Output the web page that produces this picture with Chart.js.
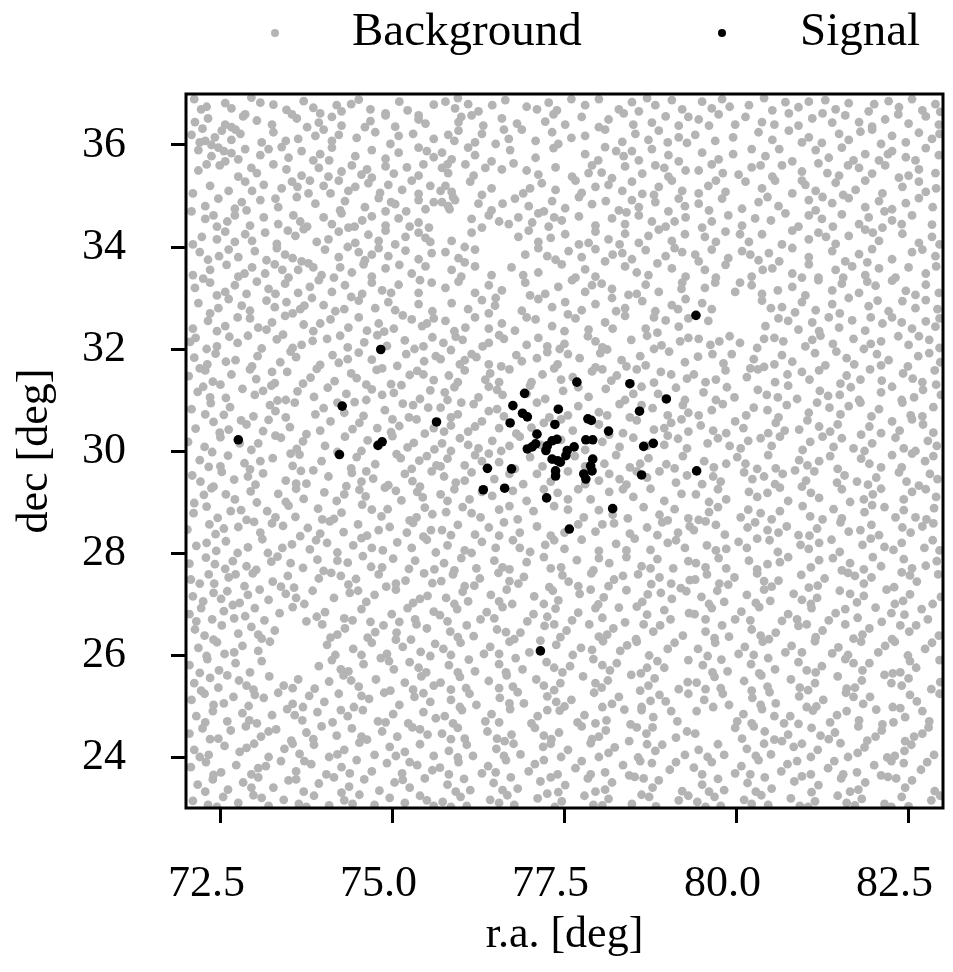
<!DOCTYPE html>
<html>
<head>
<meta charset="utf-8">
<script src="https://cdn.jsdelivr.net/npm/chart.js@4.4.0/dist/chart.umd.min.js"></script>
<style>
  html, body { margin: 0; padding: 0; background: #fff; }
  #wrap { width: 953px; height: 972px; }
</style>
</head>
<body>
<div id="wrap"><canvas id="myChart" width="953" height="972"></canvas></div>
<script>
// tick labels
var xTicks = [72.5, 75.0, 77.5, 80.0, 82.5];
var yTicks = [24, 26, 28, 30, 32, 34, 36];

// signal events
var sigRA = [77.68, 78.45, 76.92, 78.98, 76.75, 76.89, 76.96, 77.41, 78.59, 76.71, 77.36, 77.84, 77.89, 78.14, 77.10,
  77.81, 77.91, 76.96, 77.03, 77.08, 77.25, 77.32, 77.39, 77.23, 77.54, 77.64, 77.52, 77.32, 77.40, 77.44,
  78.65, 78.79, 77.91, 77.88, 77.90, 77.37, 77.37, 77.81, 77.78, 76.38, 76.73, 78.62, 79.42, 76.32, 76.63,
  77.24, 78.20, 77.57, 74.83, 74.27, 72.76, 74.23, 74.79, 74.85, 75.64, 77.15, 79.41];
var sigDec = [31.35, 31.32, 31.13, 31.02, 30.89, 30.74, 30.67, 30.82, 30.78, 30.55, 30.52, 30.63, 30.60, 30.39, 30.33,
  30.22, 30.22, 30.04, 30.08, 30.14, 30.10, 30.20, 30.23, 30.01, 30.01, 30.08, 29.91, 29.84, 29.81, 29.78,
  30.09, 30.15, 29.84, 29.71, 29.61, 29.51, 29.61, 29.45, 29.55, 29.66, 29.65, 29.53, 29.61, 29.24, 29.27,
  29.08, 28.87, 28.47, 31.99, 30.88, 30.22, 29.93, 30.11, 30.18, 30.57, 26.08, 32.66];

// background events, (r.a., dec) pairs, read region by region
var bgNW = [72.57,36.82, 72.66,36.72, 72.86,36.60, 73.08,36.83, 73.27,36.79, 73.46,36.69, 73.71,36.86, 73.85,36.73, 74.19,36.78, 74.26,36.66, 74.51,36.89, 74.90,36.62, 75.38,36.58, 75.60,36.79, 72.12,36.90, 72.30,36.75, 74.68,36.70, 75.10,36.85, 73.95,36.62,
  72.13,36.45, 72.32,36.52, 72.57,36.40, 72.83,36.56, 73.03,36.48, 73.25,36.40, 73.54,36.60, 73.93,36.44, 74.12,36.55, 74.26,36.38, 74.68,36.47, 74.90,36.58, 75.04,36.36, 75.38,36.50, 75.48,36.42, 72.66,36.35, 73.76,36.35,
  72.08,36.20, 72.20,36.05, 72.42,36.15, 72.52,36.28, 72.66,36.10, 72.79,36.22, 73.10,36.05, 73.27,36.25, 73.63,36.12, 73.88,36.18, 74.00,36.30, 74.12,36.08, 74.22,36.20, 74.48,36.14, 74.75,36.25, 74.97,36.02, 75.09,36.18, 75.60,36.12, 72.37,36.00,
  72.18,35.90, 72.37,35.78, 72.47,35.95, 72.66,35.84, 72.76,35.72, 72.86,35.92, 73.08,35.80, 73.39,35.96, 73.49,35.75, 73.68,35.88, 73.85,35.70, 73.95,35.82, 74.12,35.95, 74.46,35.78, 74.70,35.90, 74.90,35.73, 75.09,35.85, 75.38,35.95, 75.60,35.76, 72.57,35.68,
  72.18,35.50, 72.49,35.60, 73.03,35.45, 73.27,35.62, 73.68,35.40, 73.93,35.55, 74.07,35.38, 74.26,35.48, 74.41,35.60, 74.63,35.52, 74.70,35.36, 74.90,35.58, 75.02,35.44, 75.21,35.56, 75.38,35.40, 75.45,35.62, 72.76,35.38, 73.46,35.52,
  72.35,35.20, 72.86,35.28, 72.96,35.10, 73.13,35.22, 73.39,35.15, 73.54,35.28, 73.78,35.05, 74.00,35.20, 74.22,35.30, 74.36,35.10, 74.46,35.18, 74.65,35.25, 74.82,35.06, 74.94,35.22, 75.14,35.12, 75.28,35.30, 75.38,35.04, 72.10,35.05, 73.62,35.18,
  72.28,34.80, 72.47,34.95, 72.71,34.75, 72.81,34.88, 72.88,34.72, 73.08,34.92, 73.34,34.78, 73.61,34.98, 73.88,34.85, 74.24,34.72, 74.31,34.90, 74.60,34.78, 74.80,34.96, 74.90,34.70, 75.04,34.84, 75.38,34.92, 75.48,34.74, 75.60,34.88, 72.08,34.70,
  72.28,34.55, 72.71,34.62, 72.93,34.42, 73.13,34.58, 73.34,34.45, 73.56,34.62, 73.66,34.50, 73.76,34.40, 74.00,34.58, 74.12,34.45, 74.26,34.66, 74.36,34.38, 74.56,34.52, 74.70,34.60, 74.90,34.42, 75.09,34.56, 75.38,34.48, 75.53,34.38, 72.45,34.40,
  72.23,34.20, 72.57,34.30, 72.71,34.10, 72.86,34.25, 72.96,34.12, 73.15,34.28, 73.32,34.06, 73.59,34.22, 73.71,34.35, 74.07,34.15, 74.22,34.30, 74.46,34.08, 74.65,34.24, 74.80,34.12, 74.90,34.32, 75.04,34.05, 75.19,34.20, 75.38,34.28, 75.55,34.10,
  72.20,33.90, 72.32,33.75, 72.62,33.95, 72.76,33.80, 73.00,33.92, 73.17,33.74, 73.32,33.98, 73.44,33.85, 73.68,33.72, 74.02,33.95, 74.22,33.80, 74.51,33.90, 74.60,33.74, 74.80,33.98, 74.94,33.82, 75.19,33.93, 75.38,33.76, 75.57,33.88,
  72.35,33.55, 72.59,33.65, 72.76,33.42, 72.96,33.60, 73.15,33.48, 73.29,33.66, 73.49,33.40, 73.63,33.55, 73.78,33.68, 73.97,33.45, 74.24,33.60, 74.41,33.50, 74.58,33.66, 74.70,33.42, 74.90,33.58, 75.28,33.48, 75.48,33.62, 72.10,33.45,
  72.13,33.20, 72.35,33.30, 72.57,33.12, 72.71,33.25, 72.88,33.08, 73.03,33.32, 73.20,33.18, 73.44,33.28, 73.63,33.10, 73.80,33.22, 73.93,33.35, 74.12,33.12, 74.31,33.25, 74.56,33.08, 74.70,33.30, 74.85,33.15, 75.09,33.26, 75.38,33.10, 75.57,33.30,
  72.18,32.90, 72.47,32.80, 72.62,32.98, 72.81,32.85, 72.93,32.75, 73.17,32.95, 73.29,32.82, 73.46,32.92, 73.66,32.78, 73.83,33.00, 74.00,32.86, 74.17,32.74, 74.51,32.95, 74.75,32.80, 74.94,32.92, 75.04,32.76, 75.38,32.88, 75.58,32.74,
  72.32,32.55, 72.57,32.45, 72.93,32.60, 73.17,32.38, 73.25,32.52, 73.44,32.65, 73.71,32.48, 73.85,32.35, 74.10,32.58, 74.36,32.42, 74.51,32.62, 74.63,32.36, 74.80,32.50, 75.02,32.40, 75.28,32.58, 75.43,32.45, 75.60,32.60, 72.10,32.40,
  72.22,36.70, 72.95,36.93, 73.61,36.52, 74.40,36.80, 75.22,36.68, 72.72,36.30, 72.24,36.32, 73.45,36.08, 74.60,36.35, 75.30,36.22,
  72.28,36.08, 72.55,35.88, 73.20,35.92, 74.08,35.70, 75.50,35.88, 72.30,35.62, 72.95,35.55, 73.80,35.30, 74.55,35.42, 75.55,35.20,
  72.62,35.10, 73.30,34.95, 74.10,35.05, 74.98,34.88, 75.20,34.70, 72.40,34.62, 72.60,34.50, 73.48,34.32, 74.45,34.40, 75.25,34.40,
  72.10,34.05, 72.45,34.15, 73.90,34.10, 74.35,34.00, 75.48,34.18, 72.48,33.82, 73.55,33.78, 73.85,33.60, 74.70,33.85, 75.10,33.65,
  72.25,33.38, 72.85,33.48, 73.40,33.55, 74.15,33.40, 75.40,33.35, 72.45,33.05, 73.30,33.08, 73.72,32.85, 74.40,33.02, 74.98,33.10,
  72.35,32.70, 72.75,32.62, 73.55,32.70, 74.30,32.78, 75.15,32.66, 72.45,32.35, 73.05,32.42, 73.95,32.50, 74.88,32.34, 75.50,32.50];

var bgN = [75.77,36.85, 75.91,36.72, 76.10,36.80, 76.25,36.66, 76.64,36.88, 76.95,36.75, 77.27,36.83, 77.39,36.68, 77.80,36.78, 78.00,36.90, 78.29,36.70, 78.48,36.84, 78.58,36.66, 78.82,36.78, 79.06,36.88, 79.21,36.70,
  75.96,36.45, 76.15,36.58, 76.32,36.38, 76.59,36.52, 76.81,36.42, 77.34,36.60, 77.51,36.40, 77.75,36.55, 78.00,36.35, 78.14,36.50, 78.36,36.62, 78.77,36.44, 78.97,36.56, 79.16,36.38,
  75.81,36.20, 75.96,36.28, 76.20,36.05, 76.30,36.22, 76.69,36.12, 76.88,36.30, 77.08,36.08, 77.32,36.25, 77.41,36.02, 77.80,36.18, 78.09,36.30, 78.34,36.06, 78.53,36.22, 78.72,36.10, 78.87,36.28, 79.16,36.15, 79.28,36.04,
  75.72,35.85, 75.86,35.72, 76.10,35.95, 76.20,35.80, 76.44,35.68, 76.71,35.90, 77.08,35.75, 77.34,35.94, 77.80,35.82, 77.99,35.70, 78.09,35.96, 78.36,35.78, 78.48,35.88, 78.58,35.70, 78.77,35.92, 79.01,35.80, 79.16,35.68,
  75.72,35.55, 75.81,35.45, 76.06,35.62, 76.18,35.40, 76.59,35.52, 76.76,35.64, 77.12,35.42, 77.37,35.56, 77.61,35.38, 77.90,35.60, 78.04,35.46, 78.19,35.35, 78.38,35.58, 78.63,35.44, 78.82,35.60, 79.01,35.38, 79.26,35.50,
  75.77,35.20, 75.86,35.08, 76.13,35.28, 76.44,35.15, 76.90,35.05, 77.17,35.25, 77.37,35.12, 77.66,35.30, 77.75,35.06, 78.14,35.22, 78.34,35.10, 78.48,35.28, 78.63,35.04, 78.87,35.18, 79.06,35.30, 79.21,35.10,
  75.72,34.88, 75.81,34.80, 75.91,34.92, 75.83,34.74, 76.25,34.85, 76.44,34.72, 76.78,34.95, 76.98,34.80, 77.32,34.90, 77.51,34.76, 77.71,34.98, 77.90,34.84, 78.29,34.72, 78.48,34.92, 78.58,34.78, 78.82,34.88, 79.01,34.70, 79.16,34.95,
  76.15,34.55, 76.40,34.62, 76.69,34.45, 76.83,34.58, 77.03,34.48, 77.12,34.66, 77.27,34.40, 77.46,34.52, 77.71,34.60, 77.95,34.42, 78.19,34.56, 78.38,34.45, 78.58,34.62, 78.77,34.50, 78.97,34.40, 79.26,34.58,
  75.86,34.12, 76.15,34.28, 76.83,34.20, 76.98,34.32, 77.12,34.10, 77.51,34.25, 77.71,34.05, 77.95,34.30, 78.14,34.15, 78.38,34.26, 78.58,34.08, 78.72,34.22, 78.87,34.34, 79.06,34.12,
  75.77,33.90, 75.96,33.78, 76.20,33.95, 76.93,33.85, 77.12,33.98, 77.37,33.75, 77.56,33.92, 77.75,33.80, 77.95,33.96, 78.09,33.72, 78.34,33.88, 78.48,33.76, 78.68,33.94, 78.97,33.82, 79.21,33.90,
  75.86,33.55, 76.20,33.62, 76.44,33.45, 76.73,33.60, 77.12,33.50, 77.46,33.66, 77.66,33.40, 77.80,33.56, 78.38,33.62, 78.72,33.45, 79.06,33.58, 79.26,33.42,
  75.77,33.20, 75.96,33.32, 76.20,33.10, 76.40,33.25, 76.59,33.15, 76.93,33.30, 77.22,33.08, 77.41,33.22, 77.61,33.35, 77.80,33.12, 78.04,33.28, 78.19,33.18, 78.43,33.06, 78.68,33.26, 78.87,33.12, 79.21,33.30,
  75.86,32.90, 76.10,32.78, 76.30,32.96, 76.49,32.85, 76.88,32.75, 77.12,32.98, 77.32,32.82, 77.51,32.92, 77.75,32.76, 77.95,32.88, 78.19,33.00, 78.38,32.80, 78.63,32.94, 78.82,32.74, 79.06,32.86, 79.26,32.98,
  75.77,32.55, 76.06,32.42, 76.20,32.62, 76.59,32.50, 76.78,32.36, 77.08,32.58, 77.32,32.45, 77.66,32.60, 77.85,32.38, 78.09,32.52, 78.38,32.65, 78.68,32.40, 78.97,32.56, 79.16,32.44, 79.30,32.60,
  75.95,36.92, 76.45,36.78, 77.10,36.70, 77.60,36.90, 78.70,36.92, 76.00,36.55, 76.62,36.30, 77.22,36.46, 78.50,36.40, 79.30,36.55,
  75.90,36.08, 76.50,36.02, 77.60,36.14, 78.25,35.88, 79.00,36.05, 75.80,35.62, 76.35,35.55, 76.95,35.50, 77.85,35.45, 78.95,35.55,
  75.70,35.10, 76.30,35.02, 77.00,35.15, 77.95,35.18, 78.80,35.02, 75.88,34.98, 76.60,34.85, 77.20,34.70, 78.10,34.90, 79.25,34.80,
  76.30,34.38, 76.55,34.50, 77.35,34.58, 78.40,34.68, 79.10,34.50, 77.30,34.18, 77.85,34.08, 78.30,34.05, 79.25,34.25, 76.05,34.00,
  76.05,33.70, 77.25,33.82, 78.20,33.85, 78.85,33.68, 79.10,33.98, 76.00,33.42, 76.90,33.45, 77.95,33.42, 78.55,33.50, 79.20,33.18,
  76.50,33.00, 77.00,33.05, 77.90,33.25, 78.55,33.08, 79.15,32.78, 76.40,32.70, 76.95,32.62, 77.55,32.68, 78.25,32.74, 78.80,32.62,
  75.90,32.35, 76.40,32.40, 77.50,32.35, 78.20,32.40, 78.85,32.32];

var bgNE = [79.50,36.85, 79.64,36.72, 79.79,36.90, 80.18,36.78, 80.52,36.68, 80.71,36.84, 80.90,36.74, 81.29,36.88, 81.44,36.70, 81.63,36.82, 81.92,36.66, 82.21,36.86, 82.36,36.74, 82.55,36.90, 82.70,36.68, 82.89,36.80,
  79.45,36.50, 79.74,36.60, 79.98,36.40, 80.13,36.55, 80.37,36.45, 80.76,36.62, 80.90,36.38, 81.10,36.52, 81.39,36.44, 81.58,36.58, 81.97,36.36, 82.16,36.50, 82.50,36.42, 82.75,36.56, 82.94,36.40,
  79.40,36.20, 79.69,36.08, 80.32,36.25, 80.52,36.10, 80.76,36.28, 81.05,36.15, 81.24,36.04, 81.49,36.22, 81.63,36.10, 81.97,36.30, 82.26,36.18, 82.46,36.05, 82.65,36.24, 82.84,36.12,
  79.50,35.85, 79.74,35.72, 80.22,35.92, 80.42,35.78, 80.81,35.68, 81.15,35.90, 81.34,35.75, 81.53,35.95, 81.87,35.82, 82.07,35.70, 82.26,35.88, 82.46,35.76, 82.75,35.94, 82.94,35.80,
  79.45,35.50, 79.64,35.62, 80.03,35.42, 80.22,35.56, 80.52,35.38, 80.66,35.60, 80.95,35.48, 81.19,35.64, 81.49,35.40, 81.78,35.55, 81.97,35.44, 82.16,35.60, 82.36,35.36, 82.65,35.52, 82.89,35.45,
  79.59,35.20, 79.84,35.08, 80.13,35.28, 80.37,35.15, 80.56,35.30, 80.81,35.05, 81.00,35.22, 81.15,35.10, 81.44,35.26, 81.73,35.12, 81.87,35.30, 82.12,35.05, 82.41,35.18, 82.65,35.28, 82.75,35.08,
  79.45,34.85, 79.79,34.95, 80.08,34.75, 80.32,34.88, 80.61,34.80, 81.05,34.92, 81.15,34.72, 81.39,34.86, 81.63,34.96, 81.87,34.78, 82.07,34.90, 82.26,34.74, 82.46,34.86, 82.65,34.96,
  79.64,34.50, 79.88,34.62, 80.08,34.42, 80.27,34.56, 80.71,34.66, 80.90,34.40, 81.24,34.55, 81.53,34.64, 81.78,34.45, 81.92,34.58, 82.12,34.38, 82.26,34.52, 82.55,34.62, 82.84,34.44,
  79.54,34.20, 79.84,34.30, 80.18,34.10, 80.37,34.25, 80.66,34.05, 80.81,34.32, 81.05,34.15, 81.19,34.28, 81.44,34.06, 81.63,34.22, 81.87,34.34, 82.07,34.12, 82.41,34.26, 82.65,34.08, 82.84,34.20,
  79.40,33.85, 79.64,33.95, 79.88,33.78, 80.08,33.92, 80.32,33.74, 80.47,33.88, 80.81,33.98, 81.05,33.80, 81.39,33.92, 81.58,33.72, 81.78,33.86, 81.97,33.96, 82.26,33.76, 82.55,33.90, 82.89,33.82,
  79.54,33.55, 79.84,33.65, 80.22,33.42, 80.52,33.58, 80.81,33.48, 81.05,33.66, 81.19,33.40, 81.44,33.55, 81.68,33.62, 81.87,33.45, 82.07,33.58, 82.31,33.40, 82.50,33.60, 82.75,33.48,
  79.54,33.20, 79.69,33.30, 79.98,33.12, 80.22,33.25, 80.37,33.08, 80.81,33.22, 81.19,33.35, 81.39,33.15, 81.53,33.28, 81.78,33.10, 82.02,33.24, 82.26,33.34, 82.46,33.14, 82.75,33.26, 82.94,33.10,
  79.50,32.90, 79.64,32.78, 80.37,32.95, 80.66,32.82, 80.95,32.92, 81.15,32.76, 81.39,32.88, 81.63,33.00, 81.92,32.84, 82.21,32.74, 82.41,32.94, 82.60,32.80, 82.75,32.96,
  79.59,32.55, 80.42,32.45, 80.61,32.60, 80.90,32.38, 81.10,32.52, 81.34,32.62, 81.49,32.42, 81.68,32.56, 81.87,32.36, 82.12,32.50, 82.26,32.62, 82.55,32.40, 82.75,32.54, 82.89,32.44,
  79.90,36.75, 80.40,36.92, 81.05,36.85, 82.00,36.80, 82.96,36.65, 79.60,36.38, 80.55,36.40, 81.25,36.62, 81.78,36.45, 82.35,36.60,
  79.95,36.15, 80.95,36.05, 81.80,36.26, 82.10,36.02, 82.95,36.22, 79.95,35.82, 80.62,35.92, 81.70,35.70, 82.20,35.82, 82.60,35.70,
  79.80,35.45, 80.35,35.60, 81.32,35.45, 81.62,35.60, 82.50,35.40, 79.45,35.05, 79.70,35.30, 80.95,35.30, 81.55,35.02, 82.90,35.15,
  79.60,34.72, 80.45,34.98, 81.25,34.98, 82.15,34.70, 82.85,34.78, 79.50,34.38, 80.50,34.52, 81.05,34.62, 81.40,34.40, 82.40,34.45,
  79.70,34.10, 80.05,34.25, 81.30,34.20, 81.98,34.28, 82.95,34.05, 79.45,33.72, 80.20,33.85, 80.62,33.72, 81.90,33.70, 82.70,33.95,
  79.70,33.40, 80.38,33.55, 80.95,33.40, 81.55,33.40, 82.90,33.62, 80.05,33.30, 80.60,33.15, 81.00,33.05, 81.90,33.32, 82.60,33.06,
  80.50,32.80, 80.85,32.72, 81.50,32.70, 82.05,32.95, 82.92,32.78, 80.75,32.55, 81.20,32.35, 81.95,32.62, 82.40,32.52, 82.95,32.60];

var bgW = [72.06,32.14, 72.14,32.22, 72.45,32.05, 72.63,32.24, 72.75,32.12, 73.10,32.01, 73.32,32.19, 73.41,32.28, 73.68,32.08, 73.84,32.16, 74.24,32.26, 74.35,32.03, 74.59,32.13, 74.78,32.27, 74.92,32.06, 75.18,32.17, 75.32,32.00, 75.58,32.23,
  72.12,31.83, 72.31,31.70, 72.43,31.91, 72.72,31.78, 72.96,31.66, 73.04,31.86, 73.37,31.74, 73.52,31.95, 73.60,31.84, 73.95,31.69, 74.13,31.88, 74.22,31.73, 74.51,31.93, 74.70,31.79, 75.07,31.67, 75.20,31.90, 75.46,31.76, 75.63,31.86,
  72.04,31.47, 72.28,31.58, 72.39,31.36, 72.66,31.50, 72.93,31.60, 73.02,31.41, 73.29,31.33, 73.47,31.55, 73.81,31.44, 73.90,31.61, 74.16,31.37, 74.40,31.52, 74.48,31.43, 74.77,31.59, 74.98,31.31, 75.25,31.49, 75.36,31.57, 75.60,31.39,
  72.17,31.16, 72.25,31.26, 72.58,31.04, 72.82,31.22, 73.00,31.10, 73.24,31.28, 73.33,30.99, 73.62,31.17, 73.86,31.06, 74.06,31.24, 74.33,31.12, 74.62,31.00, 74.70,31.21, 75.02,31.14, 75.13,31.29, 75.40,31.02, 75.55,31.19,
  72.08,30.82, 72.36,30.94, 72.55,30.71, 72.64,30.86, 72.98,30.68, 73.22,30.90, 73.30,30.78, 73.58,30.95, 73.88,30.72, 74.00,30.84, 74.45,30.96, 74.58,30.69, 74.89,30.80, 75.15,30.93, 75.24,30.66, 75.52,30.85,
  72.14,30.44, 72.40,30.57, 72.49,30.36, 72.88,30.52, 73.12,30.39, 73.20,30.61, 73.51,30.47, 73.75,30.33, 74.10,30.58, 74.42,30.43, 74.52,30.55, 74.98,30.37, 75.10,30.49, 75.35,30.62, 75.47,30.34,
  72.03,30.18, 72.27,30.08, 72.50,30.27, 72.95,30.02, 73.05,30.15, 73.38,30.26, 73.61,30.04, 73.70,30.19, 74.02,30.10, 74.31,30.28, 74.55,30.00, 74.64,30.21, 75.00,30.29, 75.22,30.07, 75.31,30.16, 75.61,30.03,
  72.20,29.82, 72.33,29.69, 72.61,29.91, 72.85,29.76, 72.93,29.64, 73.26,29.86, 73.55,29.71, 73.65,29.93, 73.97,29.80, 74.40,29.66, 74.48,29.88, 74.75,29.74, 75.06,29.94, 75.28,29.65, 75.39,29.81, 75.64,29.72,
  72.09,29.52, 72.21,29.40, 72.52,29.59, 72.70,29.44, 73.01,29.34, 73.12,29.56, 73.45,29.42, 73.67,29.61, 73.75,29.36, 74.07,29.50, 74.33,29.31, 74.41,29.57, 74.72,29.46, 74.94,29.33, 75.18,29.55, 75.29,29.41, 75.57,29.60,
  72.26,29.14, 72.37,29.27, 72.71,29.05, 72.94,29.21, 73.03,28.99, 73.34,29.16, 73.60,29.26, 73.71,29.06, 74.01,29.19, 74.19,29.02, 74.52,29.24, 74.61,29.11, 74.89,29.28, 75.13,29.03, 75.36,29.20, 75.44,29.09,
  72.11,28.78, 72.30,28.91, 72.46,28.69, 72.80,28.84, 72.88,28.65, 73.18,28.82, 73.49,28.93, 73.59,28.71, 73.92,28.87, 74.15,28.67, 74.26,28.79, 74.56,28.95, 74.84,28.72, 74.93,28.86, 75.25,28.64, 75.47,28.89, 75.58,28.76,
  72.02,28.46, 72.34,28.56, 72.43,28.37, 72.76,28.51, 72.99,28.61, 73.08,28.40, 73.41,28.53, 73.66,28.33, 73.77,28.49, 74.09,28.62, 74.29,28.41, 74.50,28.56, 74.63,28.34, 74.96,28.51, 75.21,28.40, 75.30,28.59, 75.56,28.45,
  72.15,28.14, 72.44,28.04, 72.58,28.23, 72.90,28.11, 73.11,28.27, 73.19,28.00, 73.54,28.17, 73.80,28.07, 73.89,28.25, 74.20,28.01, 74.43,28.15, 74.55,28.29, 74.86,28.05, 75.07,28.21, 75.28,28.10, 75.50,28.26, 75.63,28.01,
  72.05,27.79, 72.29,27.91, 72.57,27.69, 72.68,27.84, 73.02,27.67, 73.24,27.83, 73.33,27.93, 73.70,27.71, 73.91,27.87, 74.00,27.65, 74.35,27.81, 74.57,27.94, 74.69,27.73, 75.01,27.89, 75.24,27.69, 75.33,27.85, 75.61,27.68,
  72.30,32.00, 72.90,32.26, 73.55,32.02, 74.05,32.20, 75.45,32.05, 72.20,31.62, 72.58,31.75, 73.25,31.55, 74.35,31.80, 74.85,31.62,
  72.50,31.30, 73.12,31.18, 73.70,31.32, 74.62,31.30, 75.45,31.50, 72.35,31.05, 73.45,31.00, 74.20,30.95, 74.85,31.10, 75.30,30.90,
  72.28,30.72, 72.80,30.60, 73.45,30.66, 74.30,30.75, 75.00,30.62, 72.62,30.42, 73.30,30.30, 73.95,30.40, 74.78,30.45, 75.60,30.45,
  72.38,29.98, 72.78,30.15, 73.52,29.95, 74.20,29.98, 75.12,29.86, 72.50,29.70, 73.08,29.80, 73.85,29.62, 74.62,29.60, 75.50,29.90,
  72.40,29.30, 72.90,29.50, 73.60,29.36, 74.55,29.40, 75.40,29.30, 72.12,28.98, 72.58,29.15, 73.45,29.00, 74.30,29.15, 75.05,29.22,
  72.65,28.82, 73.30,28.70, 73.98,28.66, 74.70,28.85, 75.35,28.70, 72.55,28.48, 73.25,28.58, 73.95,28.38, 74.80,28.45, 75.45,28.32,
  72.30,28.20, 72.75,28.00, 73.40,28.10, 74.05,28.20, 74.70,28.10, 72.42,27.78, 72.88,27.74, 73.52,27.80, 74.20,27.85, 74.85,27.72];

var bgC = [75.74,32.12, 75.92,32.24, 76.02,32.18, 76.31,32.05, 76.55,32.27, 76.62,32.20, 76.95,32.08, 77.12,32.22, 77.43,32.00, 77.50,32.10, 77.84,32.25, 78.05,32.03, 78.12,31.99, 78.47,32.18, 78.70,32.26, 78.91,32.07, 79.18,32.15, 79.30,32.22,
  75.70,31.80, 75.98,31.70, 76.15,31.90, 76.22,31.84, 76.58,31.66, 76.80,31.88, 76.88,31.76, 77.25,31.94, 77.40,31.70, 77.72,31.82, 77.95,31.64, 78.02,31.92, 78.33,31.78, 78.60,31.86, 78.68,31.68, 79.02,31.95, 79.25,31.74,
  75.82,31.48, 76.05,31.58, 76.35,31.40, 76.42,31.52, 76.70,31.60, 77.02,31.35, 77.18,31.50, 77.35,31.62, 77.62,31.45, 77.90,31.56, 78.18,31.38, 78.26,31.48, 78.55,31.60, 78.80,31.34, 79.05,31.50, 79.28,31.42,
  75.76,31.15, 75.90,31.25, 76.25,31.05, 76.52,31.20, 76.60,31.10, 77.00,31.28, 77.22,31.02, 77.48,31.18, 77.85,31.06, 78.10,31.22, 78.38,31.00, 78.62,31.26, 78.86,31.12, 79.12,31.24, 79.25,31.00,
  75.70,30.85, 75.95,30.72, 76.18,30.92, 76.40,30.78, 76.62,30.68, 77.10,30.95, 77.55,30.70, 77.70,30.88, 78.00,30.76, 78.30,30.92, 78.45,30.66, 78.78,30.84, 79.00,30.70, 79.22,30.90, 76.52,30.82, 77.28,30.66,
  75.85,30.50, 76.10,30.38, 76.30,30.58, 76.55,30.45, 76.80,30.34, 77.20,30.55, 77.62,30.40, 78.00,30.52, 78.35,30.35, 78.55,30.60, 78.80,30.42, 79.05,30.55, 79.30,30.38, 77.02,30.46, 77.45,30.62,
  75.72,30.15, 75.98,30.25, 76.25,30.05, 76.45,30.20, 76.70,30.10, 76.85,30.28, 77.45,30.22, 77.80,30.02, 78.05,30.18, 78.30,30.08, 78.50,30.26, 78.95,30.12, 79.15,30.24, 76.58,30.00, 77.15,30.12,
  75.80,29.85, 76.05,29.72, 76.20,29.92, 76.55,29.78, 76.78,29.65, 77.00,29.88, 77.18,29.70, 77.65,29.90, 78.08,29.75, 78.25,29.92, 78.45,29.68, 78.72,29.86, 78.98,29.74, 79.22,29.90, 76.40,29.95,
  75.75,29.50, 75.92,29.38, 76.15,29.58, 76.48,29.45, 76.90,29.35, 77.10,29.55, 77.30,29.40, 77.55,29.60, 78.00,29.42, 78.15,29.55, 78.40,29.34, 78.70,29.48, 78.88,29.60, 79.12,29.38, 79.28,29.52,
  75.70,29.15, 75.90,29.25, 76.12,29.05, 76.45,29.12, 76.75,29.22, 76.95,29.02, 77.40,29.18, 77.70,29.25, 77.88,29.05, 78.15,29.20, 78.50,29.10, 78.75,29.26, 78.95,29.02, 79.20,29.16,
  75.78,28.80, 76.02,28.90, 76.28,28.70, 76.55,28.85, 76.82,28.66, 77.05,28.82, 77.35,28.92, 77.78,28.70, 78.00,28.84, 78.42,28.68, 78.65,28.90, 78.88,28.75, 79.10,28.86, 79.30,28.68,
  75.72,28.45, 75.95,28.55, 76.20,28.36, 76.40,28.50, 76.62,28.60, 76.85,28.40, 77.10,28.52, 77.30,28.34, 77.70,28.56, 77.95,28.42, 78.22,28.58, 78.45,28.38, 78.70,28.50, 78.92,28.60, 79.15,28.40, 79.32,28.52,
  75.80,28.15, 76.05,28.05, 76.30,28.22, 76.50,28.10, 76.75,28.25, 77.00,28.02, 77.22,28.16, 77.50,28.08, 77.75,28.26, 78.00,28.04, 78.25,28.18, 78.52,28.28, 78.75,28.06, 79.00,28.20, 79.25,28.10,
  75.75,27.80, 76.00,27.90, 76.22,27.70, 76.48,27.85, 76.70,27.68, 76.95,27.82, 77.20,27.92, 77.45,27.72, 77.68,27.86, 77.92,27.66, 78.15,27.80, 78.40,27.92, 78.62,27.74, 78.85,27.88, 79.08,27.70, 79.30,27.84,
  75.85,31.98, 76.40,32.12, 77.25,32.05, 77.95,32.15, 78.80,32.00, 76.05,31.78, 76.40,31.70, 77.10,31.82, 77.55,31.90, 78.40,31.66,
  75.95,31.35, 76.55,31.35, 77.45,31.40, 78.05,31.60, 78.90,31.55, 75.80,31.00, 76.40,31.26, 76.95,31.12, 77.70,31.25, 78.50,31.12,
  75.85,30.66, 76.00,30.95, 78.12,30.70, 78.62,30.90, 79.30,30.75, 75.75,30.38, 76.20,30.48, 78.15,30.32, 78.95,30.45, 79.20,30.62,
  75.85,30.00, 76.10,30.12, 78.70,30.10, 79.00,30.30, 79.28,30.05, 75.70,29.70, 76.30,29.80, 77.80,29.70, 78.60,29.75, 79.10,29.66,
  76.05,29.42, 76.70,29.55, 77.80,29.35, 78.55,29.60, 78.30,29.45, 75.80,29.02, 76.30,29.20, 77.20,29.25, 77.55,29.05, 78.35,29.25,
  76.15,28.78, 76.70,28.92, 77.55,28.85, 78.20,28.75, 79.00,28.64, 75.85,28.35, 76.55,28.34, 77.50,28.40, 78.05,28.56, 78.85,28.35,
  76.15,28.00, 76.85,28.10, 77.35,28.25, 78.40,28.05, 79.12,28.25, 75.90,27.66, 76.60,27.72, 77.30,27.70, 78.00,27.90, 78.75,27.70];

var bgE = [79.45,32.20, 79.62,32.08, 79.90,32.25, 80.05,32.12, 80.30,32.02, 80.55,32.22, 80.68,32.15, 81.00,32.05, 81.22,32.26, 81.40,32.10, 81.70,32.20, 81.85,32.00, 82.10,32.15, 82.35,32.25, 82.50,32.08, 82.80,32.18, 82.95,32.02,
  79.44,31.85, 79.81,31.72, 79.93,31.90, 80.25,31.80, 80.40,31.65, 80.66,31.88, 80.81,31.75, 81.14,31.92, 81.29,31.68, 81.60,31.82, 81.71,31.70, 82.04,31.90, 82.21,31.78, 82.49,31.66, 82.64,31.86, 82.96,31.74,
  79.38,31.50, 79.70,31.40, 79.84,31.58, 80.15,31.45, 80.31,31.60, 80.56,31.35, 80.74,31.50, 81.06,31.40, 81.20,31.58, 81.51,31.32, 81.60,31.48, 81.94,31.60, 82.11,31.38, 82.42,31.52, 82.56,31.42, 82.88,31.58,
  79.52,31.15, 79.86,31.25, 79.97,31.05, 80.31,31.20, 80.44,31.10, 80.75,31.28, 80.88,31.02, 81.21,31.18, 81.33,31.08, 81.66,31.25, 81.78,31.00, 82.10,31.15, 82.26,31.26, 82.58,31.05, 82.71,31.20, 82.97,31.10,
  79.64,30.80, 79.80,30.92, 80.14,30.70, 80.25,30.85, 80.61,30.66, 80.73,30.90, 81.05,30.75, 81.17,30.95, 81.51,30.72, 81.63,30.88, 81.96,30.68, 82.07,30.82, 82.41,30.95, 82.53,30.70, 82.86,30.86,
  79.48,30.50, 79.66,30.40, 79.98,30.58, 80.10,30.45, 80.46,30.35, 80.57,30.55, 80.91,30.42, 81.03,30.60, 81.36,30.38, 81.47,30.52, 81.81,30.32, 81.93,30.48, 82.26,30.58, 82.37,30.40, 82.71,30.52, 82.86,30.36,
  79.58,30.15, 79.73,30.25, 80.06,30.05, 80.17,30.20, 80.51,30.10, 80.63,30.28, 80.96,30.02, 81.07,30.18, 81.41,30.08, 81.53,30.25, 81.86,30.00, 81.97,30.15, 82.31,30.26, 82.43,30.05, 82.78,30.20, 82.91,30.10,
  79.53,29.80, 79.67,29.68, 80.01,29.88, 80.13,29.75, 80.46,29.92, 80.57,29.66, 80.91,29.82, 81.03,29.72, 81.36,29.90, 81.47,29.65, 81.81,29.85, 81.93,29.75, 82.26,29.92, 82.40,29.68, 82.74,29.80, 82.86,29.90,
  79.66,29.50, 79.77,29.40, 80.11,29.58, 80.23,29.45, 80.56,29.35, 80.67,29.55, 81.01,29.42, 81.13,29.60, 81.46,29.38, 81.57,29.52, 81.91,29.34, 82.03,29.48, 82.36,29.58, 82.47,29.40, 82.81,29.55, 82.92,29.45,
  79.41,29.15, 79.73,29.25, 79.85,29.05, 80.18,29.20, 80.30,29.10, 80.63,29.28, 80.75,29.02, 81.08,29.18, 81.20,29.08, 81.53,29.25, 81.65,29.00, 81.98,29.15, 82.10,29.26, 82.43,29.05, 82.55,29.20, 82.90,29.10,
  79.60,28.80, 79.73,28.90, 80.06,28.70, 80.17,28.85, 80.51,28.66, 80.63,28.82, 80.96,28.92, 81.07,28.72, 81.41,28.86, 81.53,28.68, 81.86,28.80, 81.97,28.94, 82.31,28.70, 82.43,28.84, 82.76,28.66, 82.87,28.88,
  79.38,28.45, 79.70,28.55, 79.83,28.36, 80.16,28.50, 80.27,28.60, 80.61,28.40, 80.73,28.52, 81.06,28.34, 81.17,28.48, 81.51,28.60, 81.63,28.42, 81.96,28.55, 82.07,28.35, 82.41,28.50, 82.53,28.40, 82.86,28.58,
  79.57,28.15, 79.70,28.05, 80.03,28.22, 80.15,28.10, 80.48,28.25, 80.60,28.02, 80.93,28.16, 81.05,28.08, 81.38,28.26, 81.50,28.02, 81.83,28.16, 81.95,28.28, 82.28,28.06, 82.40,28.20, 82.73,28.10, 82.85,28.25,
  79.41,27.80, 79.74,27.90, 79.85,27.70, 80.18,27.85, 80.30,27.68, 80.63,27.82, 80.75,27.92, 81.08,27.72, 81.20,27.86, 81.53,27.66, 81.65,27.80, 81.98,27.92, 82.10,27.74, 82.43,27.88, 82.55,27.70, 82.91,27.84,
  79.75,32.15, 80.40,32.20, 81.10,32.18, 81.95,32.10, 82.65,32.25, 79.65,31.90, 80.55,31.70, 81.45,31.95, 82.10,31.68, 82.80,31.92,
  79.55,31.35, 80.20,31.62, 80.95,31.55, 81.80,31.40, 82.70,31.35, 79.70,31.00, 80.60,31.05, 81.50,31.10, 82.40,31.00, 82.90,31.30,
  79.45,30.70, 80.45,30.80, 81.35,30.85, 81.80,30.95, 82.70,30.68, 79.85,30.35, 80.70,30.40, 81.20,30.48, 82.10,30.35, 82.55,30.62,
  79.90,30.10, 80.35,30.25, 81.25,30.28, 81.70,30.05, 82.60,30.00, 79.85,29.75, 80.30,29.65, 81.20,29.80, 82.10,29.68, 82.55,29.95,
  79.50,29.35, 80.40,29.50, 80.85,29.62, 81.75,29.40, 82.65,29.32, 79.60,29.00, 80.45,29.18, 80.95,29.30, 81.85,29.05, 82.75,29.25,
  79.45,28.65, 80.35,28.78, 81.25,28.66, 82.15,28.90, 82.60,28.70, 79.55,28.62, 80.45,28.45, 80.90,28.35, 81.80,28.45, 82.70,28.52,
  79.85,28.08, 80.30,28.28, 81.20,28.20, 82.15,28.12, 82.95,28.05, 79.55,27.72, 80.45,27.78, 81.40,27.90, 81.85,27.68, 82.75,27.75];

var bgSW = [72.07,27.48, 72.33,27.58, 72.41,27.40, 72.62,27.52, 72.85,27.35, 72.97,27.60, 73.26,27.44, 73.48,27.55, 73.57,27.32, 73.93,27.50, 74.11,27.61, 74.36,27.38, 74.47,27.49, 74.80,27.58, 74.91,27.34, 75.19,27.46, 75.46,27.60, 75.58,27.41,
  72.10,27.15, 72.40,27.22, 72.51,27.10, 72.60,27.25, 72.78,27.02, 72.90,27.18, 73.07,27.28, 73.20,27.08, 73.45,27.20, 73.72,27.00, 73.84,27.26, 74.15,27.12, 74.38,27.22, 74.62,27.04, 74.74,27.18, 75.05,27.28, 75.30,27.02, 75.51,27.16,
  72.05,26.80, 72.22,26.92, 72.38,26.70, 72.55,26.86, 72.86,26.76, 73.00,26.92, 73.14,26.68, 73.36,26.82, 73.55,26.94, 73.75,26.66, 74.02,26.84, 74.30,26.72, 74.55,26.90, 74.68,26.65, 74.99,26.80, 75.22,26.92, 75.33,26.70, 75.60,26.85,
  72.13,26.50, 72.27,26.38, 72.52,26.58, 72.76,26.42, 72.95,26.55, 73.10,26.32, 73.29,26.48, 73.98,26.60, 74.20,26.40, 74.31,26.52, 74.64,26.34, 74.87,26.58, 75.06,26.44, 75.27,26.30, 75.50,26.52,
  72.18,26.14, 72.45,26.25, 72.56,26.02, 72.82,26.18, 73.05,26.08, 73.22,26.26, 74.05,26.20, 74.17,26.00, 74.43,26.12, 74.70,26.24, 74.92,26.02, 75.15,26.16, 75.41,26.06, 75.62,26.22,
  72.05,25.80, 72.31,25.92, 72.48,25.70, 72.72,25.84, 72.93,25.66, 73.10,25.88, 73.93,25.78, 74.12,25.90, 74.36,25.68, 74.58,25.82, 74.83,25.94, 75.02,25.72, 75.25,25.86, 75.49,25.66,
  72.12,25.45, 72.35,25.55, 72.47,25.36, 72.77,25.50, 72.98,25.32, 73.21,25.58, 73.42,25.40, 73.63,25.52, 73.87,25.34, 74.08,25.48, 74.29,25.60, 74.51,25.38, 74.76,25.52, 74.97,25.30, 75.18,25.46, 75.42,25.58, 75.60,25.40,
  72.08,25.12, 72.27,25.24, 72.55,25.05, 72.69,25.18, 72.91,25.00, 73.13,25.16, 73.34,25.26, 73.55,25.04, 73.79,25.20, 74.01,25.08, 74.22,25.24, 74.44,24.98, 74.66,25.14, 74.88,25.26, 75.10,25.02, 75.32,25.18, 75.55,25.08,
  72.15,24.80, 72.39,24.90, 72.60,24.70, 72.82,24.86, 73.03,24.66, 73.25,24.82, 73.47,24.94, 73.69,24.72, 73.91,24.88, 74.13,24.68, 74.35,24.80, 74.57,24.92, 74.79,24.70, 75.01,24.84, 75.23,24.66, 75.45,24.88, 75.63,24.76,
  72.05,24.46, 72.24,24.56, 72.47,24.36, 72.65,24.52, 72.87,24.60, 73.09,24.40, 73.31,24.54, 73.53,24.32, 73.75,24.48, 73.97,24.60, 74.19,24.42, 74.41,24.56, 74.63,24.34, 74.85,24.50, 75.07,24.40, 75.29,24.58, 75.51,24.44,
  72.12,24.14, 72.33,24.04, 72.56,24.22, 72.78,24.10, 72.99,24.26, 73.20,24.00, 73.43,24.16, 73.65,24.06, 73.86,24.24, 74.08,24.00, 74.30,24.14, 74.52,24.28, 74.74,24.04, 74.96,24.20, 75.18,24.10, 75.40,24.25, 75.60,24.02,
  72.07,23.80, 72.29,23.90, 72.51,23.70, 72.73,23.84, 72.95,23.66, 73.16,23.82, 73.38,23.92, 73.60,23.72, 73.82,23.86, 74.04,23.66, 74.26,23.80, 74.48,23.94, 74.70,23.72, 74.92,23.88, 75.14,23.68, 75.36,23.84, 75.58,23.74,
  72.17,23.46, 72.39,23.56, 72.61,23.36, 72.83,23.50, 73.05,23.60, 73.27,23.40, 73.49,23.54, 73.71,23.32, 73.93,23.48, 74.15,23.60, 74.37,23.42, 74.59,23.56, 74.81,23.34, 75.03,23.50, 75.25,23.40, 75.47,23.58,
  72.10,23.14, 72.32,23.06, 72.54,23.22, 72.76,23.10, 72.98,23.25, 73.20,23.04, 73.42,23.16, 73.64,23.08, 73.86,23.24, 74.08,23.05, 74.30,23.15, 74.52,23.26, 74.74,23.06, 74.96,23.20, 75.18,23.10, 75.40,23.24, 75.60,23.04,
  72.20,27.40, 72.72,27.58, 73.38,27.34, 74.25,27.55, 75.05,27.40, 72.25,27.05, 72.68,26.98, 73.60,27.12, 74.50,27.26, 75.40,27.10,
  72.15,26.66, 72.70,26.72, 73.90,26.75, 74.42,26.68, 75.10,26.65, 72.40,26.30, 73.05,26.40, 74.10,26.34, 74.75,26.45, 75.35,26.60,
  72.30,25.98, 72.70,26.05, 74.55,26.00, 75.05,26.30, 75.55,25.98, 72.20,25.65, 72.60,25.60, 74.25,25.72, 74.95,25.88, 75.38,25.75,
  72.22,25.30, 72.88,25.40, 73.55,25.35, 74.40,25.50, 75.30,25.32, 72.40,25.02, 73.00,25.22, 73.70,24.98, 74.55,25.20, 75.45,25.25,
  72.28,24.68, 72.92,24.72, 73.58,24.82, 74.25,24.92, 74.90,24.68, 72.35,24.35, 73.20,24.50, 73.85,24.35, 74.55,24.40, 75.40,24.54,
  72.20,24.00, 72.88,24.18, 73.55,24.26, 74.20,24.05, 75.05,24.02, 72.40,23.65, 73.05,23.78, 73.72,23.92, 74.38,23.68, 75.25,23.90,
  72.28,23.32, 72.95,23.40, 73.60,23.56, 74.26,23.30, 75.15,23.55, 72.45,23.02, 73.10,23.20, 73.75,23.02, 74.42,23.08, 75.50,23.15];

var bgS = [75.71,27.45, 75.88,27.58, 76.19,27.36, 76.27,27.50, 76.54,27.61, 76.83,27.40, 76.91,27.53, 77.28,27.33, 77.47,27.56, 77.56,27.44, 77.89,27.60, 78.14,27.35, 78.22,27.48, 78.57,27.58, 78.76,27.39, 78.88,27.52, 79.19,27.31, 79.32,27.47,
  75.78,27.12, 76.02,27.24, 76.10,27.05, 76.43,27.18, 76.66,27.28, 76.74,27.00, 77.06,27.15, 77.33,27.26, 77.41,27.07, 77.72,27.20, 77.99,26.99, 78.07,27.13, 78.40,27.27, 78.63,27.04, 78.71,27.19, 79.06,27.10, 79.27,27.25,
  75.69,26.78, 75.94,26.90, 76.28,26.70, 76.37,26.84, 76.60,26.94, 76.96,26.66, 77.05,26.80, 77.37,26.91, 77.61,26.68, 77.70,26.83, 78.05,26.73, 78.29,26.93, 78.38,26.64, 78.70,26.79, 78.95,26.88, 79.04,26.70, 79.31,26.82,
  75.84,26.46, 76.08,26.58, 76.18,26.37, 76.52,26.50, 76.77,26.31, 76.86,26.44, 77.21,26.57, 77.44,26.35, 77.53,26.48, 77.86,26.60, 78.12,26.40, 78.21,26.52, 78.54,26.31, 78.79,26.46, 78.89,26.58, 79.22,26.38,
  75.74,26.12, 75.99,26.24, 76.33,26.02, 76.42,26.16, 76.70,26.26, 76.99,26.05, 77.38,26.20, 77.62,26.00, 77.74,26.14, 78.06,26.27, 78.31,26.08, 78.41,26.19, 78.73,25.99, 79.00,26.12, 79.10,26.24,
  75.82,25.80, 76.11,25.91, 76.20,25.68, 76.55,25.82, 76.79,25.94, 76.89,25.72, 77.24,25.86, 77.47,25.66, 77.58,25.78, 77.92,25.92, 78.16,25.70, 78.26,25.84, 78.61,25.64, 78.85,25.88, 78.95,25.75, 79.30,25.90,
  75.70,25.46, 75.98,25.57, 76.07,25.35, 76.40,25.49, 76.66,25.60, 76.75,25.38, 77.09,25.52, 77.35,25.31, 77.44,25.45, 77.77,25.58, 78.04,25.36, 78.13,25.50, 78.47,25.61, 78.72,25.40, 78.81,25.54, 79.16,25.33, 79.29,25.47,
  75.85,25.12, 76.12,25.24, 76.22,25.02, 76.56,25.16, 76.82,25.27, 76.91,25.05, 77.25,25.19, 77.50,24.99, 77.60,25.12, 77.93,25.26, 78.19,25.04, 78.29,25.18, 78.62,24.98, 78.88,25.22, 78.97,25.09, 79.30,25.24,
  75.76,24.80, 76.01,24.92, 76.35,24.70, 76.44,24.84, 76.71,24.94, 77.02,24.66, 77.11,24.80, 77.43,24.91, 77.69,24.68, 77.79,24.82, 78.11,24.72, 78.37,24.93, 78.46,24.64, 78.79,24.78, 79.05,24.90, 79.14,24.70,
  75.72,24.46, 75.95,24.57, 76.05,24.36, 76.38,24.50, 76.63,24.31, 76.73,24.44, 77.07,24.57, 77.31,24.35, 77.42,24.48, 77.75,24.60, 78.00,24.40, 78.10,24.52, 78.44,24.31, 78.69,24.46, 78.78,24.58, 79.12,24.38, 79.28,24.50,
  75.82,24.12, 76.08,24.24, 76.17,24.02, 76.51,24.16, 76.76,24.26, 76.86,24.05, 77.19,24.20, 77.45,24.00, 77.55,24.14, 77.88,24.27, 78.14,24.08, 78.23,24.19, 78.57,23.99, 78.82,24.12, 78.92,24.24, 79.25,24.04,
  75.69,23.79, 75.96,23.90, 76.30,23.68, 76.39,23.82, 76.65,23.94, 76.98,23.72, 77.07,23.86, 77.40,23.66, 77.66,23.78, 77.75,23.92, 78.09,23.70, 78.35,23.84, 78.44,23.64, 78.77,23.88, 79.03,23.75, 79.12,23.90,
  75.80,23.46, 76.04,23.57, 76.13,23.35, 76.47,23.49, 76.72,23.60, 76.82,23.38, 77.15,23.52, 77.41,23.31, 77.51,23.45, 77.84,23.58, 78.09,23.36, 78.19,23.50, 78.52,23.61, 78.78,23.40, 78.87,23.54, 79.21,23.33,
  75.73,23.12, 75.99,23.22, 76.08,23.04, 76.42,23.16, 76.67,23.25, 76.77,23.06, 77.11,23.19, 77.36,23.02, 77.46,23.13, 77.79,23.24, 78.05,23.05, 78.14,23.18, 78.48,23.08, 78.73,23.22, 78.83,23.03, 79.16,23.15, 79.30,23.24,
  76.05,27.35, 76.70,27.45, 77.70,27.35, 78.35,27.55, 79.05,27.40, 75.90,27.00, 76.55,27.05, 77.20,27.00, 77.88,27.28, 78.90,27.22,
  75.80,26.66, 76.48,26.72, 77.25,26.75, 77.95,26.92, 78.55,26.95, 75.95,26.35, 76.65,26.45, 77.35,26.60, 78.00,26.36, 78.65,26.60,
  75.85,26.00, 76.55,26.02, 77.15,26.28, 77.90,26.10, 78.55,26.26, 75.95,25.66, 76.65,25.66, 77.35,25.75, 78.05,25.80, 78.70,25.75,
  75.85,25.32, 76.55,25.35, 77.20,25.40, 77.95,25.45, 78.60,25.30, 75.98,24.98, 76.70,25.05, 77.38,25.08, 78.05,24.98, 78.75,25.10,
  75.88,24.66, 76.55,24.68, 77.25,24.92, 77.95,24.66, 78.62,24.92, 75.85,24.35, 76.52,24.36, 77.20,24.42, 77.90,24.35, 78.55,24.58,
  75.95,23.99, 76.62,24.02, 77.30,24.26, 78.00,24.00, 78.70,24.25, 75.82,23.66, 76.50,23.70, 77.20,23.94, 77.88,23.66, 78.60,23.92,
  75.92,23.32, 76.60,23.35, 77.30,23.60, 77.95,23.32, 78.65,23.58, 75.85,23.02, 76.55,23.10, 77.25,23.28, 77.92,23.06, 78.62,23.26];

var bgSE = [79.40,27.48, 79.57,27.58, 79.88,27.38, 79.97,27.52, 80.30,27.60, 80.51,27.34, 80.61,27.46, 80.94,27.57, 81.18,27.36, 81.28,27.50, 81.62,27.61, 81.85,27.40, 81.96,27.52, 82.29,27.33, 82.52,27.56, 82.62,27.44, 82.93,27.58,
  79.49,27.14, 79.72,27.26, 79.82,27.04, 80.15,27.18, 80.40,27.28, 80.49,27.06, 80.83,27.20, 81.08,27.00, 81.17,27.12, 81.50,27.26, 81.75,27.03, 81.85,27.16, 82.18,27.28, 82.42,27.06, 82.52,27.19, 82.85,27.00, 82.97,27.14,
  79.39,26.80, 79.64,26.92, 79.98,26.70, 80.07,26.85, 80.33,26.94, 80.66,26.67, 80.75,26.80, 81.09,26.92, 81.34,26.68, 81.44,26.82, 81.76,26.73, 82.02,26.93, 82.11,26.65, 82.44,26.79, 82.69,26.90, 82.78,26.70,
  79.55,26.46, 79.79,26.58, 79.89,26.36, 80.22,26.50, 80.47,26.31, 80.57,26.44, 80.90,26.57, 81.15,26.35, 81.25,26.48, 81.58,26.60, 81.83,26.40, 81.93,26.52, 82.26,26.31, 82.51,26.46, 82.61,26.58, 82.94,26.38,
  79.44,26.12, 79.69,26.24, 80.03,26.02, 80.12,26.16, 80.38,26.26, 80.71,26.05, 80.80,26.18, 81.14,26.27, 81.39,26.03, 81.48,26.15, 81.81,26.26, 82.06,26.05, 82.16,26.18, 82.49,25.99, 82.74,26.12, 82.84,26.24,
  79.51,25.80, 79.78,25.91, 79.87,25.68, 80.21,25.82, 80.46,25.94, 80.56,25.72, 80.90,25.86, 81.15,25.66, 81.24,25.78, 81.58,25.92, 81.83,25.70, 81.93,25.84, 82.27,25.64, 82.52,25.88, 82.61,25.75, 82.95,25.90,
  79.42,25.46, 79.68,25.57, 79.77,25.35, 80.11,25.49, 80.36,25.60, 80.45,25.38, 80.79,25.52, 81.04,25.31, 81.14,25.45, 81.47,25.58, 81.72,25.36, 81.82,25.50, 82.15,25.61, 82.40,25.40, 82.50,25.54, 82.83,25.33, 82.96,25.47,
  79.53,25.12, 79.80,25.24, 79.89,25.02, 80.23,25.16, 80.48,25.27, 80.57,25.05, 80.91,25.19, 81.16,24.99, 81.26,25.12, 81.59,25.26, 81.84,25.04, 81.94,25.18, 82.27,24.98, 82.52,25.22, 82.62,25.09, 82.95,25.24,
  79.42,24.90, 80.01,24.70, 80.10,24.84, 80.37,24.94, 80.69,24.66, 80.78,24.80, 81.11,24.91, 81.36,24.68, 81.46,24.82, 81.78,24.72, 82.03,24.93, 82.12,24.64, 82.45,24.78, 82.70,24.90, 82.80,24.70,
  79.40,24.46, 79.98,24.57, 80.08,24.36, 80.41,24.50, 80.66,24.31, 80.75,24.44, 81.09,24.57, 81.34,24.35, 81.43,24.48, 81.77,24.60, 82.02,24.40, 82.11,24.52, 82.45,24.31, 82.70,24.46, 82.79,24.58,
  79.45,24.14, 79.73,24.25, 79.82,24.04, 80.15,24.16, 80.40,24.26, 80.50,24.05, 80.83,24.20, 81.08,24.00, 81.18,24.14, 81.51,24.27, 81.76,24.08, 81.86,24.19, 82.19,23.99, 82.44,24.12, 82.54,24.24, 82.87,24.04,
  79.38,23.79, 79.64,23.90, 79.98,23.68, 80.07,23.82, 80.32,23.94, 80.65,23.72, 80.74,23.86, 81.08,23.66, 81.33,23.78, 81.42,23.92, 81.75,23.70, 82.00,23.84, 82.10,23.64, 82.43,23.88, 82.68,23.75, 82.77,23.90,
  79.50,23.46, 79.73,23.57, 79.82,23.35, 80.16,23.49, 80.41,23.60, 80.51,23.38, 80.84,23.52, 81.09,23.31, 81.19,23.45, 81.52,23.58, 81.77,23.36, 81.87,23.50, 82.20,23.61, 82.45,23.40, 82.55,23.54, 82.88,23.33,
  79.43,23.12, 79.68,23.22, 79.77,23.04, 80.11,23.16, 80.36,23.25, 80.46,23.06, 80.79,23.19, 81.04,23.02, 81.14,23.13, 81.47,23.24, 81.72,23.05, 81.82,23.18, 82.15,23.08, 82.40,23.22, 82.50,23.03, 82.83,23.15, 82.96,23.24,
  79.75,27.40, 80.40,27.45, 81.05,27.32, 81.72,27.55, 82.40,27.62, 79.60,27.00, 80.28,27.02, 80.95,27.08, 81.65,27.20, 82.30,27.00,
  79.55,26.70, 80.20,26.68, 80.88,26.70, 81.58,26.90, 82.25,26.82, 79.68,26.33, 80.35,26.38, 81.02,26.60, 81.70,26.32, 82.38,26.58,
  79.58,25.98, 80.25,26.00, 80.95,26.05, 81.62,26.00, 82.30,26.26, 79.65,25.66, 80.33,25.64, 81.02,25.70, 81.70,25.84, 82.38,25.66,
  79.55,25.33, 80.22,25.30, 80.92,25.36, 81.60,25.34, 82.25,25.45, 79.66,24.98, 80.35,25.02, 81.02,24.98, 81.70,25.18, 82.38,24.96,
  80.22,24.66, 80.55,24.80, 80.90,24.65, 81.60,24.90, 82.28,24.68, 80.25,24.60, 80.55,24.34, 81.22,24.42, 81.90,24.32, 82.58,24.40,
  79.58,24.00, 80.28,24.02, 80.95,24.26, 81.62,24.00, 82.30,24.02, 79.50,23.66, 80.20,23.66, 80.88,23.92, 81.55,23.66, 82.25,23.92,
  79.60,23.32, 80.28,23.32, 80.95,23.62, 81.65,23.32, 82.32,23.58, 79.55,23.02, 80.22,23.08, 80.92,23.04, 81.60,23.10, 82.25,23.02];

function pairs(flat) {
  var pts = [];
  for (var i = 0; i < flat.length; i += 2) pts.push({x: flat[i], y: flat[i + 1]});
  return pts;
}

var background = [].concat(pairs(bgNW), pairs(bgN), pairs(bgNE), pairs(bgW), pairs(bgC), pairs(bgE),
  pairs(bgSW), pairs(bgS), pairs(bgSE));
var signal = sigRA.map(function (ra, i) { return {x: ra, y: sigDec[i]}; });

var serif = "'Liberation Serif', 'Times New Roman', serif";
var fontSize = 44;
var grey = '#b4b4b4';

// box round the axes, like matplotlib's spines
var framePlugin = {
  id: 'frame',
  afterDatasetsDraw: function (chart) {
    var a = chart.chartArea, ctx = chart.ctx;
    ctx.save();
    ctx.lineWidth = 3;
    ctx.strokeStyle = '#000';
    ctx.strokeRect(a.left, a.top, a.right - a.left, a.bottom - a.top);
    ctx.restore();
  }
};

// legend above the axes (matplotlib style: small marker, wide gap)
var legendPlugin = {
  id: 'mplLegend',
  afterDraw: function (chart) {
    var a = chart.chartArea, ctx = chart.ctx;
    var items = [
      {text: 'Background', color: grey, r: 4, mx: 89, tx: 166},
      {text: 'Signal', color: '#000', r: 4, mx: 536, tx: 614}
    ];
    ctx.save();
    ctx.font = '47px ' + serif;
    ctx.textBaseline = 'alphabetic';
    ctx.textAlign = 'left';
    items.forEach(function (it) {
      ctx.fillStyle = it.color;
      ctx.beginPath();
      ctx.arc(a.left + it.mx, 33, it.r, 0, Math.PI * 2);
      ctx.fill();
      ctx.fillStyle = '#000';
      ctx.fillText(it.text, a.left + it.tx, 45);
    });
    ctx.restore();
  }
};

var tickFont = {family: serif, size: fontSize};

var ctx = document.getElementById('myChart');
var myChart = new Chart(ctx, {
  type: 'scatter',
  data: {
    datasets: [
      {
        label: 'Signal',
        data: signal,
        backgroundColor: '#000',
        pointRadius: 4.8,
        borderWidth: 0,
        order: 1,
        clip: 0
      },
      {
        label: 'Background',
        data: background,
        backgroundColor: grey,
        pointRadius: 4.4,
        borderWidth: 0,
        order: 2,
        clip: 0
      }
    ]
  },
  options: {
    responsive: false,
    animation: false,
    devicePixelRatio: 1,
    events: [],
    layout: {padding: {top: 94, right: 10, left: 0, bottom: 0}},
    plugins: {legend: {display: false}, tooltip: {enabled: false}},
    scales: {
      x: {
        type: 'linear',
        min: 72,
        max: 83,
        afterBuildTicks: function (s) { s.ticks = xTicks.map(function (v) { return {value: v}; }); },
        afterFit: function (s) { s.height = 164; s.paddingLeft = 0; s.paddingRight = 0; },
        ticks: {
          callback: function (v) { return Number(v).toFixed(1); },
          font: tickFont, color: '#000', padding: 35, maxRotation: 0, autoSkip: false, labelOffset: -14
        },
        grid: {drawOnChartArea: false, drawTicks: true, tickLength: 15, tickWidth: 3, tickColor: '#000'},
        border: {display: false},
        title: {display: true, text: 'r.a. [deg]', font: tickFont, color: '#000', padding: {top: 0, bottom: 10}}
      },
      y: {
        type: 'linear',
        min: 23,
        max: 37,
        afterBuildTicks: function (s) { s.ticks = yTicks.map(function (v) { return {value: v}; }); },
        afterFit: function (s) { s.width = 186; s.paddingTop = 0; s.paddingBottom = 0; },
        ticks: {
          callback: function (v) { return String(v); },
          font: tickFont, color: '#000', padding: 45, autoSkip: false
        },
        grid: {drawOnChartArea: false, drawTicks: true, tickLength: 15, tickWidth: 3, tickColor: '#000'},
        border: {display: false},
        title: {display: true, text: 'dec [deg]', font: tickFont, color: '#000', padding: {top: 9, bottom: 0}}
      }
    }
  },
  plugins: [framePlugin, legendPlugin]
});
</script>
</body>
</html>
